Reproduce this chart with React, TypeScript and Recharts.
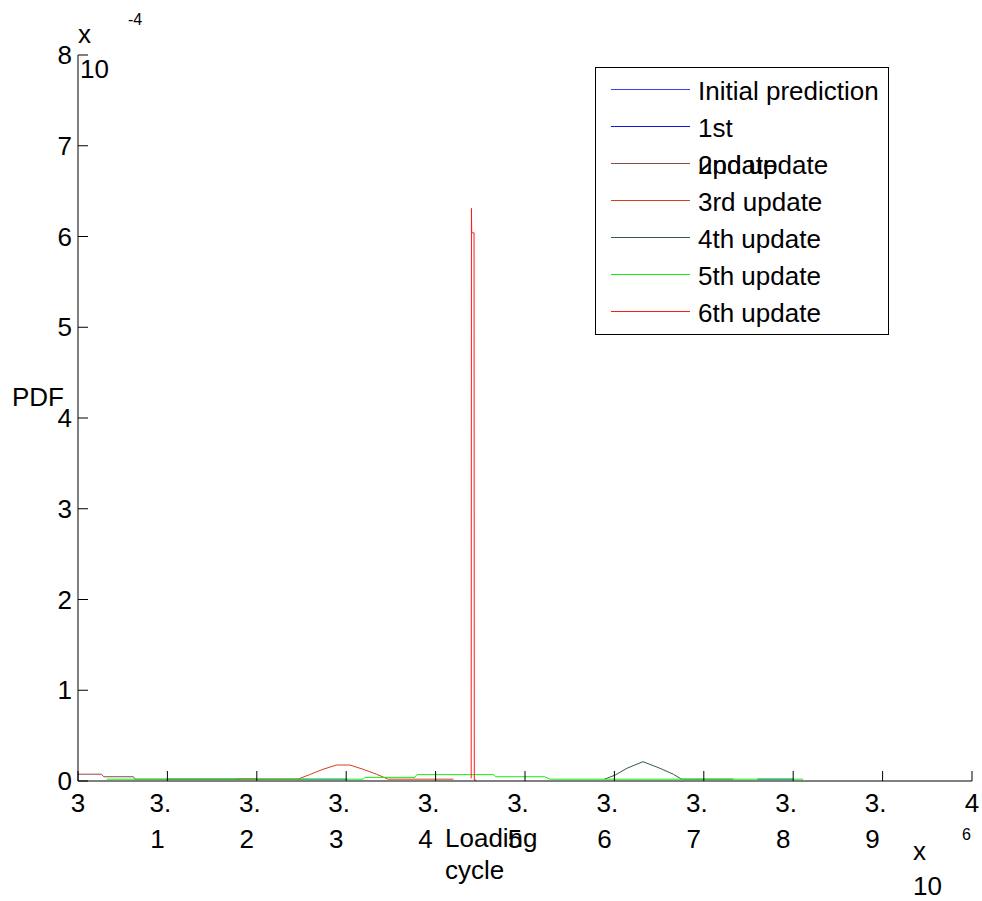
import React from "react";
import { Legend, Line, LineChart, XAxis, YAxis } from "recharts";

// x in units of 1e6 loading cycles, y (PDF) in units of 1e-4
const xTicks = [3, 3.1, 3.2, 3.3, 3.4, 3.5, 3.6, 3.7, 3.8, 3.9, 4];
const yTicks = [0, 1, 2, 3, 4, 5, 6, 7, 8];

const seriesNames = [
  "Initial prediction",
  "1st\nupdate",
  "2nd update",
  "3rd update",
  "4th update",
  "5th update",
  "6th update",
];
const seriesColors = [
  "#3c3cff",
  "#1414e0",
  "#8c4a4a",
  "#d2401e",
  "#2c5e44",
  "#11ee11",
  "#ff1a1a",
];

// the two blue curves sit on the flat tail that the 5th update overdraws
const initialPrediction = [
  [3.1, 0.02],
  [3.3, 0.02],
];
const update1 = [
  [3.76, 0.02],
  [3.8, 0.02],
];
const update2 = [
  [3.0, 0.075],
  [3.026, 0.075],
  [3.029, 0.047],
  [3.062, 0.047],
  [3.064, 0.02],
  [3.2, 0.02],
];
const update3 = [
  [3.176, 0.02],
  [3.246, 0.02],
  [3.26, 0.074],
  [3.274, 0.129],
  [3.289, 0.176],
  [3.304, 0.176],
  [3.319, 0.129],
  [3.334, 0.074],
  [3.347, 0.02],
  [3.42, 0.02],
];
const update4 = [
  [3.589, 0.02],
  [3.601, 0.066],
  [3.614, 0.14],
  [3.632, 0.213],
  [3.651, 0.14],
  [3.666, 0.074],
  [3.675, 0.02],
  [3.733, 0.02],
];
const update5 = [
  [3.032, 0.02],
  [3.319, 0.02],
  [3.321, 0.04],
  [3.377, 0.04],
  [3.379, 0.07],
  [3.465, 0.07],
  [3.467, 0.047],
  [3.522, 0.047],
  [3.528, 0.02],
  [3.811, 0.02],
];
const update6 = [
  [3.4398, 0.03],
  [3.4401, 6.31],
  [3.4404, 6.04],
  [3.443, 6.04],
  [3.4433, 0.01],
  [3.4455, 0.01],
];

const seriesData = [
  initialPrediction,
  update1,
  update2,
  update3,
  update4,
  update5,
  update6,
];

const FONT = "'Liberation Sans', Arial, Helvetica, sans-serif";
const FS = 26;
const PLOT_LEFT = 78;
const PLOT_BOTTOM = 781;

const XTick = (props: any) => {
  const { x, payload } = props;
  const s = String(payload.value);
  const parts = s.split(".");
  return (
    <g>
      <line x1={x} y1={PLOT_BOTTOM} x2={x} y2={PLOT_BOTTOM - 10} stroke="#000" />
      {parts.length > 1 ? (
        <>
          <text x={x - 7} y={812} textAnchor="middle" fontFamily={FONT} fontSize={FS} fill="#000">
            {parts[0] + "."}
          </text>
          <text x={x - 10} y={848} textAnchor="middle" fontFamily={FONT} fontSize={FS} fill="#000">
            {parts[1]}
          </text>
        </>
      ) : (
        <text x={x} y={812} textAnchor="middle" fontFamily={FONT} fontSize={FS} fill="#000">
          {s}
        </text>
      )}
    </g>
  );
};

const YTick = (props: any) => {
  const { y, payload } = props;
  return (
    <g>
      <line x1={PLOT_LEFT} y1={y} x2={PLOT_LEFT + 10} y2={y} stroke="#000" />
      <text x={72} y={y + 9} textAnchor="end" fontFamily={FONT} fontSize={FS} fill="#000">
        {payload.value}
      </text>
    </g>
  );
};

const YLabel = () => (
  <g fontFamily={FONT} fill="#000">
    <text x={12} y={406} fontSize={FS}>PDF</text>
    <text x={78} y={43} fontSize={FS}>x</text>
    <text x={80} y={78} fontSize={FS}>10</text>
    <text x={128} y={25} fontSize={16}>-4</text>
  </g>
);

const XLabel = () => (
  <g fontFamily={FONT} fill="#000">
    <text x={445} y={847} fontSize={FS}>Loading</text>
    <text x={445} y={879} fontSize={FS}>cycle</text>
    <text x={913} y={860} fontSize={FS}>x</text>
    <text x={913} y={895} fontSize={FS}>10</text>
    <text x={962} y={840} fontSize={16}>6</text>
  </g>
);

const LegendBox = () => (
  <svg width={294} height={268} style={{ display: "block" }}>
    <rect x={0.5} y={0.5} width={293} height={267} fill="#fff" stroke="#000" />
    {seriesNames.map((name, i) => {
      const y = 22.5 + 37 * i;
      return (
        <g key={name}>
          <line x1={16} y1={y} x2={95} y2={y} stroke={seriesColors[i]} strokeWidth={1} />
          {name.split("\n").map((t, j) => (
            <text
              key={j}
              x={103}
              y={y + 10.5 + 37 * j}
              fontFamily={FONT}
              fontSize={FS}
              fill="#000"
            >
              {t}
            </text>
          ))}
        </g>
      );
    })}
  </svg>
);

export default function App() {
  return (
    <div style={{ position: "absolute", left: 0, top: 0, width: 982, height: 901, background: "#fff" }}>
      <LineChart width={982} height={901} margin={{ top: 55, right: 10, bottom: 0, left: 0 }}>
        <XAxis
          dataKey="x"
          type="number"
          domain={[3, 4]}
          ticks={xTicks}
          allowDataOverflow
          height={120}
          axisLine={{ stroke: "#000" }}
          tickLine={false}
          tick={<XTick />}
          interval={0}
          label={{ content: <XLabel /> }}
        />
        <YAxis
          type="number"
          domain={[0, 8]}
          ticks={yTicks}
          allowDataOverflow
          width={78}
          axisLine={{ stroke: "#000" }}
          tickLine={false}
          tick={<YTick />}
          interval={0}
          label={{ content: <YLabel /> }}
        />
        <Legend
          layout="vertical"
          align="center"
          verticalAlign="middle"
          content={<LegendBox />}
          wrapperStyle={{ left: 595, top: 67, width: 294, height: 268 }}
        />
        {seriesData.map((pts, i) => (
          <Line
            key={seriesNames[i]}
            name={seriesNames[i]}
            data={pts.map(([x, y]) => ({ x, y }))}
            dataKey="y"
            type="linear"
            stroke={seriesColors[i]}
            strokeWidth={1}
            dot={false}
            activeDot={false}
            isAnimationActive={false}
          />
        ))}
      </LineChart>
    </div>
  );
}
